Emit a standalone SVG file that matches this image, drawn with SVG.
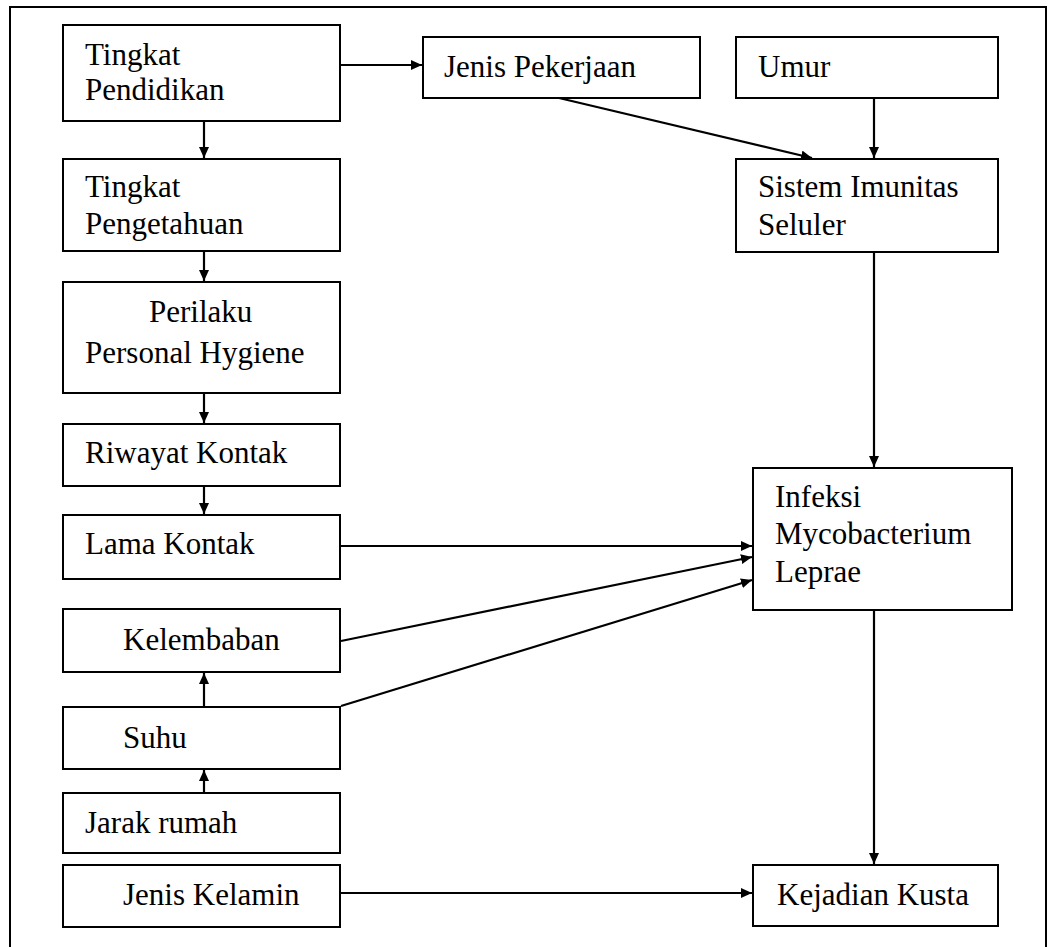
<svg xmlns="http://www.w3.org/2000/svg" width="1048" height="947" viewBox="0 0 1048 947">
<style>
.box{fill:#fff;stroke:#000;stroke-width:2}
.t{font-family:"Liberation Serif","Times New Roman","DejaVu Serif",serif;font-size:31px;fill:#000}
.c{stroke:#000;stroke-width:2.2;fill:none;marker-end:url(#ah)}
</style>
<defs>
<marker id="ah" markerUnits="userSpaceOnUse" markerWidth="14" markerHeight="12" refX="11" refY="5" orient="auto">
<path d="M0,0 L11,5 L0,10 Z" fill="#000"/>
</marker>
</defs>
<rect x="0" y="0" width="1048" height="947" fill="#fff"/>
<rect x="10" y="7" width="1036" height="960" fill="none" stroke="#000" stroke-width="2"/>
<g id="connectors">
<line class="c" x1="341" y1="65" x2="422" y2="65"/>
<line class="c" x1="559" y1="98" x2="812" y2="158"/>
<line class="c" x1="874" y1="98" x2="874" y2="158"/>
<line class="c" x1="874" y1="252" x2="874" y2="467"/>
<line class="c" x1="204" y1="121" x2="204" y2="158"/>
<line class="c" x1="204" y1="251" x2="204" y2="281"/>
<line class="c" x1="204" y1="393" x2="204" y2="423"/>
<line class="c" x1="204" y1="486" x2="204" y2="514"/>
<line class="c" x1="204" y1="707" x2="204" y2="673"/>
<line class="c" x1="204" y1="793" x2="204" y2="770"/>
<line class="c" x1="341" y1="546" x2="752" y2="546"/>
<line class="c" x1="341" y1="641" x2="752" y2="557"/>
<line class="c" x1="341" y1="706" x2="752" y2="580"/>
<line class="c" x1="874" y1="610" x2="874" y2="864"/>
<line class="c" x1="341" y1="893" x2="752" y2="893"/>
</g>
<g id="n-pendidikan"><rect class="box" x="63" y="25" width="277" height="96"/><text class="t" x="85" y="65">Tingkat</text><text class="t" x="85" y="100">Pendidikan</text></g>
<g id="n-pengetahuan"><rect class="box" x="63" y="159" width="277" height="92"/><text class="t" x="85" y="197">Tingkat</text><text class="t" x="85" y="234">Pengetahuan</text></g>
<g id="n-perilaku"><rect class="box" x="63" y="282" width="277" height="111"/><text class="t" x="149" y="322">Perilaku</text><text class="t" x="85" y="363">Personal Hygiene</text></g>
<g id="n-riwayat"><rect class="box" x="63" y="424" width="277" height="62"/><text class="t" x="85" y="463">Riwayat Kontak</text></g>
<g id="n-lama"><rect class="box" x="63" y="515" width="277" height="64"/><text class="t" x="85" y="554">Lama Kontak</text></g>
<g id="n-kelembaban"><rect class="box" x="63" y="609" width="277" height="63"/><text class="t" x="123" y="650">Kelembaban</text></g>
<g id="n-suhu"><rect class="box" x="63" y="707" width="277" height="62"/><text class="t" x="123" y="748">Suhu</text></g>
<g id="n-jarak"><rect class="box" x="63" y="793" width="277" height="60"/><text class="t" x="85" y="833">Jarak rumah</text></g>
<g id="n-kelamin"><rect class="box" x="63" y="865" width="277" height="62"/><text class="t" x="123" y="905">Jenis Kelamin</text></g>
<g id="n-pekerjaan"><rect class="box" x="423" y="37" width="277" height="61"/><text class="t" x="444" y="77">Jenis Pekerjaan</text></g>
<g id="n-umur"><rect class="box" x="736" y="37" width="262" height="61"/><text class="t" x="758" y="77">Umur</text></g>
<g id="n-imunitas"><rect class="box" x="736" y="159" width="262" height="93"/><text class="t" x="758" y="197">Sistem Imunitas</text><text class="t" x="758" y="235">Seluler</text></g>
<g id="n-infeksi"><rect class="box" x="753" y="468" width="259" height="142"/><text class="t" x="775" y="507">Infeksi</text><text class="t" x="775" y="544">Mycobacterium</text><text class="t" x="775" y="582">Leprae</text></g>
<g id="n-kusta"><rect class="box" x="753" y="865" width="245" height="61"/><text class="t" x="777" y="905">Kejadian Kusta</text></g>
</svg>
